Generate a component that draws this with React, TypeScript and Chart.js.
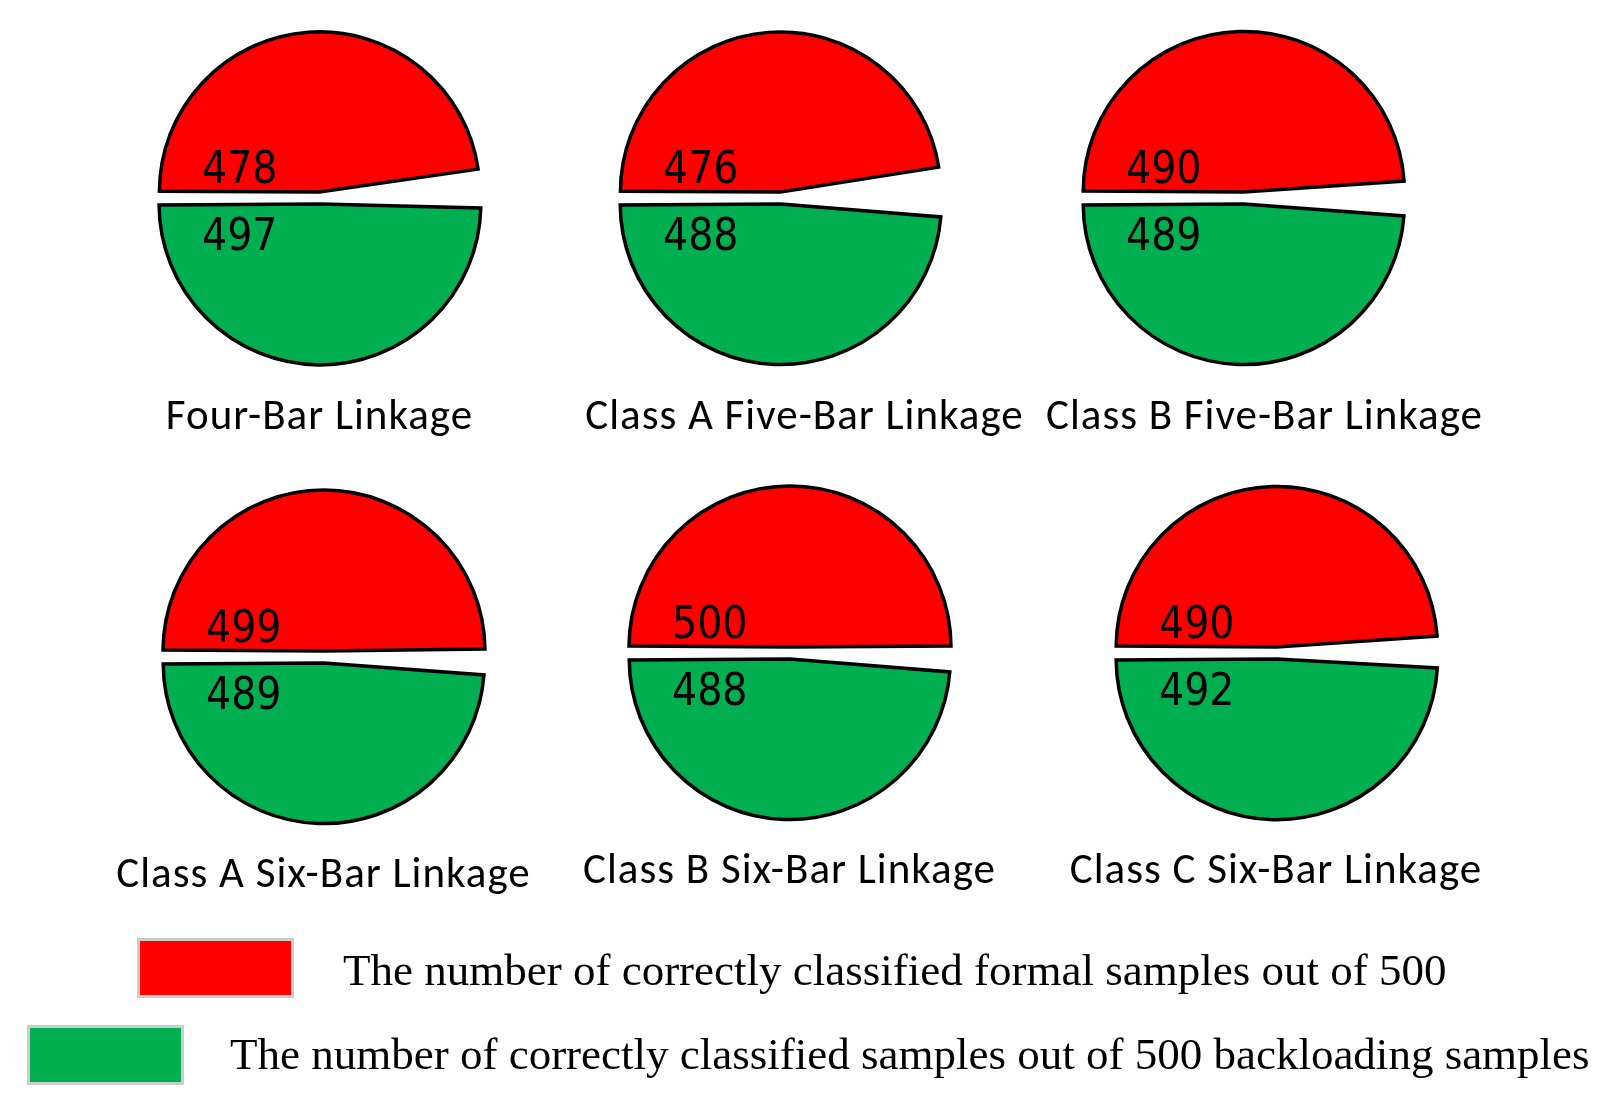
import React, { useEffect, useRef } from "react";
import { Chart, registerables } from "chart.js";

Chart.register(...registerables);

// ---------------- data ----------------
const linkageNames = [
  "Four-Bar Linkage",
  "Class A Five-Bar Linkage",
  "Class B Five-Bar Linkage",
  "Class A Six-Bar Linkage",
  "Class B Six-Bar Linkage",
  "Class C Six-Bar Linkage",
];
const formalCorrect = [478, 476, 490, 499, 500, 490];
const backloadingCorrect = [497, 488, 489, 489, 488, 492];
const samplesPerClass = 500;
const legendLabels = [
  "The number of correctly classified formal samples out of 500",
  "The number of correctly classified samples out of 500 backloading samples",
];

// ---------------- styles / layout ----------------
const RED = "#FF0000";
const GREEN = "#00B050";
const CANVAS = 370;
const pieLayout = [
  { cx: 320, cy: 198, tx: 319.5, ty: 429 },
  { cx: 781, cy: 198, tx: 804.5, ty: 429 },
  { cx: 1244, cy: 198, tx: 1264.5, ty: 429 },
  { cx: 324, cy: 657, tx: 323.5, ty: 887 },
  { cx: 790, cy: 653, tx: 789.5, ty: 883 },
  { cx: 1277, cy: 653, tx: 1276, ty: 883 },
];
const legendLayout = [
  { rx: 138.5, ry: 939.5, tx: 343, ty: 985, color: RED },
  { rx: 28.5, ry: 1026.5, tx: 230, ty: 1069, color: GREEN },
];

const sliceLabelPlugin = {
  id: "sliceLabels",
  afterDatasetsDraw(chart: any) {
    const meta = chart.getDatasetMeta(0);
    const arc = meta.data[0];
    if (!arc) return;
    const { x, y } = arc;
    const vals = chart.data.datasets[0].data;
    const ctx = chart.ctx;
    ctx.save();
    ctx.font = '44px "DejaVu Sans Condensed", "Noto Sans", sans-serif';
    ctx.fillStyle = "#000";
    ctx.textAlign = "left";
    ctx.textBaseline = "alphabetic";
    ctx.fillText(String(vals[0]), x - 118, y - 15);
    ctx.fillText(String(vals[3]), x - 118, y + 52);
    ctx.restore();
  },
};

function Pie({ index }: { index: number }) {
  const ref = useRef<HTMLCanvasElement | null>(null);
  useEffect(() => {
    if (!ref.current) return;
    const f = formalCorrect[index];
    const b = backloadingCorrect[index];
    const chart = new Chart(ref.current, {
      type: "pie",
      data: {
        labels: ["formal correct", "formal missed", "backloading missed", "backloading correct"],
        datasets: [
          {
            data: [f, samplesPerClass - f, samplesPerClass - b, b],
            backgroundColor: [RED, "rgba(0,0,0,0)", "rgba(0,0,0,0)", GREEN],
            borderColor: ["#000", "rgba(0,0,0,0)", "rgba(0,0,0,0)", "#000"],
            borderWidth: [3.5, 0, 0, 3.5],
            offset: [24, 0, 0, 24],
            borderJoinStyle: "miter",
          } as any,
        ],
      },
      options: {
        responsive: false,
        maintainAspectRatio: false,
        animation: false,
        events: [],
        rotation: -90,
        radius: 155,
        layout: { padding: 0 },
        plugins: {
          legend: { display: false },
          tooltip: { enabled: false },
          title: { display: false },
        },
      } as any,
      plugins: [sliceLabelPlugin],
    });
    return () => chart.destroy();
  }, [index]);
  const p = pieLayout[index];
  return (
    <canvas
      ref={ref}
      width={CANVAS}
      height={CANVAS}
      style={{
        position: "absolute",
        left: p.cx - CANVAS / 2,
        top: p.cy - CANVAS / 2,
        width: CANVAS,
        height: CANVAS,
      }}
    />
  );
}

export default function App() {
  return (
    <div
      style={{
        position: "absolute",
        left: 0,
        top: 0,
        width: 1605,
        height: 1114,
        background: "#fff",
        overflow: "hidden",
      }}
    >
      {linkageNames.map((_, i) => (
        <Pie key={i} index={i} />
      ))}
      <svg
        width={1605}
        height={1114}
        style={{ position: "absolute", left: 0, top: 0, pointerEvents: "none" }}
      >
        {linkageNames.map((name, i) => (
          <text
            key={name}
            x={pieLayout[i].tx}
            y={pieLayout[i].ty}
            textAnchor="middle"
            fontFamily="Carlito, Lato, 'Open Sans', sans-serif"
            fontSize={43}
            letterSpacing={1}
            fill="#000"
          >
            {name}
          </text>
        ))}
        {legendLabels.map((label, i) => {
          const l = legendLayout[i];
          return (
            <g key={label}>
              <rect
                x={l.rx}
                y={l.ry}
                width={154}
                height={57}
                fill={l.color}
                stroke="#cccccc"
                strokeWidth={3}
              />
              <text
                x={l.tx}
                y={l.ty}
                fontFamily="'Liberation Serif', 'Times New Roman', serif"
                fontSize={45}
                fill="#000"
              >
                {label}
              </text>
            </g>
          );
        })}
      </svg>
    </div>
  );
}
